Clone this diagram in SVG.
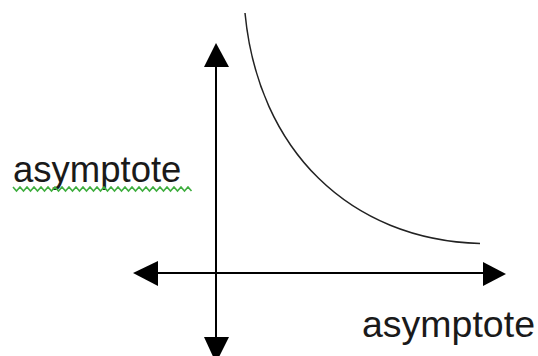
<svg xmlns="http://www.w3.org/2000/svg" width="538" height="356" viewBox="0 0 538 356">
<style>
.axis{stroke:#000;stroke-width:2;fill:none}
.head{fill:#000;stroke:none}
.lbl{font-family:"Liberation Sans",Arial,sans-serif;fill:#1a1a1a}
.curve{stroke:#222;stroke-width:1.5;fill:none}
.squiggle{stroke:#3fae3f;stroke-width:1.6;fill:none}
</style>
<rect width="538" height="356" fill="#fff"/>
<g id="connectors">
<line class="axis" x1="216" y1="60" x2="216" y2="345"/>
<polygon class="head" points="216,43 204,67 229,67"/>
<polygon class="head" points="216,363 204,337 229,337"/>
<line class="axis" x1="150" y1="273" x2="490" y2="273"/>
<polygon class="head" points="133,273 158,261 158,286"/>
<polygon class="head" points="506,274 483,262 483,286"/>
</g>
<g id="curve">
<path class="curve" d="M245,13 C258,150 350,240 480,243.5"/>
</g>
<g id="label-left">
<text class="lbl" x="13" y="182" font-size="36.5">asymptote</text>
<path class="squiggle" d="M13,187 l3.5,4 l3.5,-4 l3.5,4 l3.5,-4 l3.5,4 l3.5,-4 l3.5,4 l3.5,-4 l3.5,4 l3.5,-4 l3.5,4 l3.5,-4 l3.5,4 l3.5,-4 l3.5,4 l3.5,-4 l3.5,4 l3.5,-4 l3.5,4 l3.5,-4 l3.5,4 l3.5,-4 l3.5,4 l3.5,-4 l3.5,4 l3.5,-4 l3.5,4 l3.5,-4 l3.5,4 l3.5,-4 l3.5,4 l3.5,-4 l3.5,4 l3.5,-4 l3.5,4 l3.5,-4 l3.5,4 l3.5,-4 l3.5,4 l3.5,-4 l3.5,4 l3.5,-4 l3.5,4 l3.5,-4 l3.5,4 l3.5,-4 l3.5,4 l3.5,-4 l3.5,4 l3.5,-4 l3.5,4"/>
</g>
<g id="label-bottom">
<text class="lbl" x="362" y="337" font-size="37.5">asymptote</text>
</g>
</svg>
